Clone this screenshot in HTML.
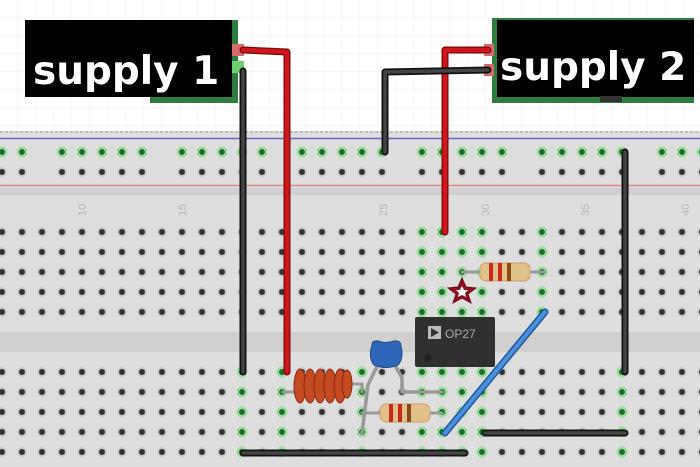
<!DOCTYPE html>
<html><head><meta charset="utf-8"><style>
html,body{margin:0;padding:0;background:#fff;width:700px;height:467px;overflow:hidden}
svg{display:block}
</style></head><body>
<svg width="700" height="467" viewBox="0 0 700 467" xmlns="http://www.w3.org/2000/svg">
<defs>
<pattern id="grid" width="18" height="18" patternUnits="userSpaceOnUse"><path d="M18 0V18H0" fill="none" stroke="#ececec" stroke-width="1"/></pattern>
<pattern id="hd" x="-8" y="222" width="20" height="20" patternUnits="userSpaceOnUse"><circle cx="10" cy="10" r="5" fill="#cacaca"/><circle cx="10" cy="10" r="3" fill="#333"/></pattern>
<pattern id="hg" x="-8" y="222" width="20" height="20" patternUnits="userSpaceOnUse"><circle cx="10" cy="10" r="5.5" fill="#9edc9e"/><circle cx="10" cy="10" r="3" fill="#1f6e30"/></pattern>
</defs>
<rect width="700" height="131" fill="url(#grid)"/>
<rect x="0" y="131" width="700" height="336" fill="#dedede"/>
<line x1="0" y1="132" x2="700" y2="132" stroke="#999" stroke-dasharray="3,2" stroke-width="1"/>
<line x1="0" y1="138.5" x2="700" y2="138.5" stroke="#6a68c0" stroke-width="1.5"/>
<line x1="0" y1="185.5" x2="700" y2="185.5" stroke="#e08585" stroke-width="1.5"/>
<rect x="0" y="188" width="700" height="7" fill="#cfcfcf"/>
<rect x="0" y="332" width="700" height="20" fill="#d2cfcf"/>
<g font-family="Liberation Sans, sans-serif" font-size="11" fill="#b8b8b8">
<text transform="translate(86,216) rotate(-90)">10</text>
<text transform="translate(186,216) rotate(-90)">15</text>
<text transform="translate(387,216) rotate(-90)">25</text>
<text transform="translate(489,216) rotate(-90)">30</text>
<text transform="translate(589,216) rotate(-90)">35</text>
<text transform="translate(689,216) rotate(-90)">40</text>
</g>
<!-- holes -->
<rect x="-8" y="142" width="708" height="20" fill="url(#hg)"/>
<rect x="-8" y="162" width="708" height="20" fill="url(#hd)"/>
<g fill="#dedede">
<rect x="35" y="144" width="14" height="36"/><rect x="155" y="144" width="14" height="36"/>
<rect x="275" y="144" width="14" height="36"/><rect x="395" y="144" width="14" height="36"/>
<rect x="515" y="144" width="14" height="36"/><rect x="635" y="144" width="14" height="36"/>
</g>
<rect x="-8" y="222" width="708" height="100" fill="url(#hd)"/>
<rect x="-8" y="362" width="708" height="100" fill="url(#hd)"/>
<g fill="url(#hg)">
<rect x="412" y="222" width="80" height="100"/>
<rect x="532" y="222" width="20" height="100"/>
<rect x="232" y="362" width="20" height="100"/>
<rect x="272" y="362" width="20" height="100"/>
<rect x="352" y="362" width="20" height="100"/>
<rect x="412" y="362" width="80" height="100"/>
<rect x="612" y="362" width="20" height="100"/>
</g>

<!-- supply 1 -->
<rect x="150" y="20" width="88" height="83" fill="#2e7d3e"/>
<rect x="25" y="20" width="207" height="77" fill="#000"/>
<rect x="232" y="44" width="12" height="12" fill="#d76b6b"/>
<rect x="232" y="61" width="12" height="12" fill="#6fcf6f"/>
<text x="33" y="84" font-family="DejaVu Sans, sans-serif" font-weight="bold" font-size="39" fill="#fff">supply 1</text>
<!-- supply 2 -->
<rect x="492" y="18" width="202" height="85" fill="#2e7d3e"/>
<rect x="497" y="20" width="197" height="77" fill="#000"/>
<rect x="600" y="96" width="22" height="6" fill="#333"/>
<rect x="484" y="44" width="10" height="12" fill="#d76b6b"/>
<rect x="484" y="64" width="10" height="12" fill="#d76b6b"/>
<text x="500" y="80" font-family="DejaVu Sans, sans-serif" font-weight="bold" font-size="39" fill="#fff">supply 2</text>

<g fill="none" stroke-linecap="round" stroke-linejoin="round">
<polyline points="243,50 287,52 287,372" stroke="#7a0a0a" stroke-width="7"/>
<polyline points="243,50 287,52 287,372" stroke="#d0161c" stroke-width="4.5"/>
<polyline points="243,71 243,372" stroke="#111" stroke-width="7"/>
<polyline points="243,71 243,372" stroke="#444" stroke-width="3.5"/>
<polyline points="488,50 445,50 445,232" stroke="#7a0a0a" stroke-width="7"/>
<polyline points="488,50 445,50 445,232" stroke="#d0161c" stroke-width="4.5"/>
<polyline points="488,70 385,72 385,152" stroke="#111" stroke-width="7"/>
<polyline points="488,70 385,72 385,152" stroke="#444" stroke-width="3.5"/>
<line x1="625" y1="152" x2="625" y2="372" stroke="#111" stroke-width="7"/>
<line x1="625" y1="152" x2="625" y2="372" stroke="#444" stroke-width="3.5"/>
<line x1="243" y1="453" x2="465" y2="453" stroke="#111" stroke-width="7"/>
<line x1="243" y1="453" x2="465" y2="453" stroke="#444" stroke-width="3.5"/>
<line x1="485" y1="433" x2="625" y2="433" stroke="#111" stroke-width="7"/>
<line x1="485" y1="433" x2="625" y2="433" stroke="#444" stroke-width="3.5"/>
<line x1="445" y1="433" x2="545" y2="312" stroke="#1f5a9a" stroke-width="7"/>
<line x1="445" y1="433" x2="545" y2="312" stroke="#4a90dd" stroke-width="4"/>
<polyline points="283,392 295,392" stroke="#999" stroke-width="3"/>
<polyline points="350,384 362,384 362,392" stroke="#999" stroke-width="3"/>
<polyline points="380,360 368,385 362,433" stroke="#999" stroke-width="3.5"/>
<polyline points="392,360 402,378 402,392 442,392" stroke="#999" stroke-width="3.5"/>
<line x1="362" y1="413" x2="442" y2="413" stroke="#999" stroke-width="3"/>
<line x1="462" y1="272" x2="545" y2="272" stroke="#999" stroke-width="3"/>
</g>
<g stroke="#8a2a10" stroke-width="1" fill="#c44a22">
<ellipse cx="300" cy="386" rx="6" ry="17"/>
<ellipse cx="310" cy="386" rx="6" ry="17"/>
<ellipse cx="320" cy="386" rx="6" ry="17"/>
<ellipse cx="330" cy="386" rx="6" ry="17"/>
<ellipse cx="340" cy="386" rx="6" ry="17"/>
<ellipse cx="347" cy="384" rx="5" ry="14"/>
</g>
<path d="M372,345 Q372,340 378,341 Q386,344 394,341 Q401,340 401,346 Q404,358 398,365 Q386,370 374,365 Q368,358 372,345Z" fill="#2f66b8" stroke="#1e4a8a"/>
<rect x="380" y="404" width="50" height="18" rx="6" fill="#e2c08a" stroke="#c9a46c"/>
<rect x="389" y="404" width="4" height="18" fill="#c8281e"/>
<rect x="398" y="404" width="4" height="18" fill="#c8281e"/>
<rect x="407" y="404" width="4" height="18" fill="#8a4a18"/>
<rect x="480" y="263" width="50" height="18" rx="6" fill="#e2c08a" stroke="#c9a46c"/>
<rect x="489" y="263" width="4" height="18" fill="#c8281e"/>
<rect x="498" y="263" width="4" height="18" fill="#c8281e"/>
<rect x="507" y="263" width="4" height="18" fill="#8a4a18"/>
<polygon points="462,278 466,287 476,288 468,294 471,303 462,298 453,303 456,294 448,288 458,287" fill="#8c1020" stroke="#6a0a18"/>
<polygon points="462,286 464,290 468,290 465,293 466,297 462,295 458,297 459,293 456,290 460,290" fill="#fff"/>
<rect x="415" y="317" width="80" height="50" rx="2" fill="#303030"/>
<rect x="428" y="326" width="13" height="13" fill="#bbb"/>
<polygon points="431,328 439,332.5 431,337" fill="#303030"/>
<text x="445" y="338" font-family="Liberation Sans, sans-serif" font-size="12" fill="#aaa">OP27</text>
<circle cx="428" cy="358" r="4" fill="#222"/>
</svg>
</body></html>
